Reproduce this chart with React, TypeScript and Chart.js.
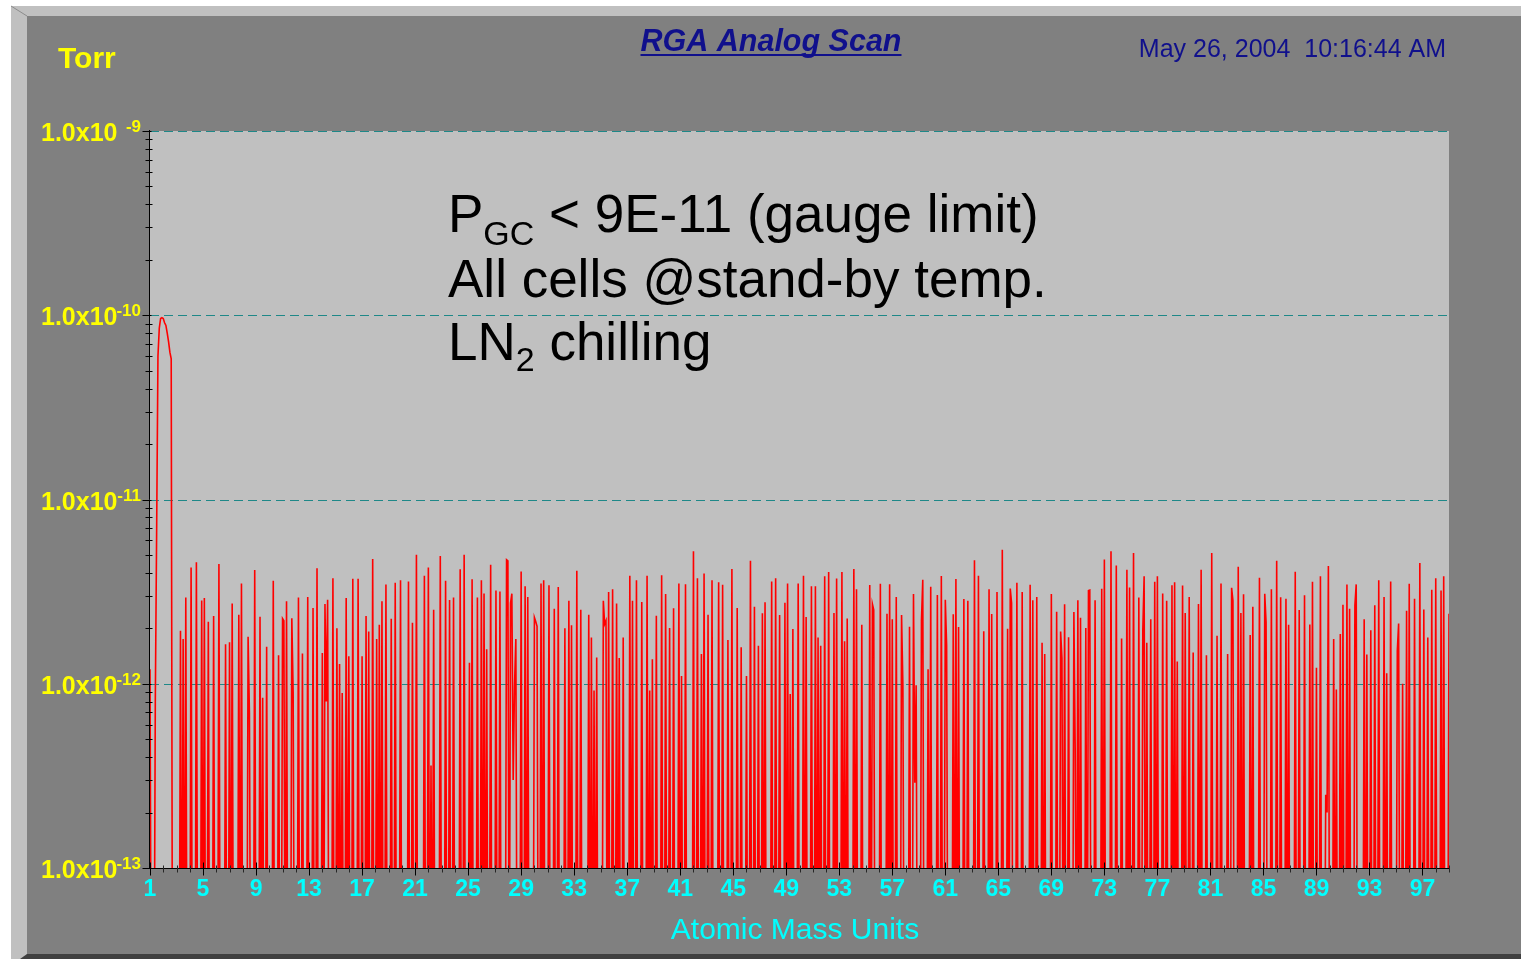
import { useEffect, useRef } from "react";
import { Chart, registerables } from "chart.js";

Chart.register(...registerables);

// ---------- data ----------
const AMU_START = 1;
const AMU_END = 99;
const SAMPLES_PER_AMU = 10;
const BELOW_RANGE_TORR = 1e-14; // readings under the 1e-13 floor

const amuTickLabels = [1, 5, 9, 13, 17, 21, 25, 29, 33, 37, 41, 45, 49, 53, 57, 61, 65, 69, 73, 77, 81, 85, 89, 93, 97];
const decadeExponents = [-13, -12, -11, -10, -9];
const minorMultipliers = [2, 3, 4, 5, 6, 7, 8, 9];

const titleText = "RGA Analog Scan";
const dateText = "May 26, 2004  10:16:44 AM";
const yUnitText = "Torr";
const xTitleText = "Atomic Mass Units";

// Pressure readings, unit 1e-12 Torr, 10 samples per AMU; 0 = below range
const scanAmu01 = [
  1.2, 0, 0, 0, 0.8, 6.6, 60, 85, 96, 97,
  96, 91, 88, 80, 72, 63, 58, 0, 0, 0,
  0, 0, 0, 1.94, 0, 1.75, 0, 2.94, 0, 0,
  0, 4.28, 0, 0, 0, 4.57, 0, 0, 0, 2.83,
  0, 2.92, 0, 0, 2.17, 0, 0, 0, 2.33, 0,
  0, 0, 4.46, 0, 0, 0, 0, 1.64, 0, 0,
  1.68, 0, 2.73, 0, 0, 0, 0, 2.37, 0, 3.5,
  0, 0, 0, 0, 1.8, 0.7, 0, 0, 0, 4.14,
  0, 0, 0, 2.31, 0, 0.84, 0, 0, 1.59, 0,
  0, 0, 0, 3.62, 0, 0, 0, 1.43, 0, 0,
];
const scanAmu11 = [
  2.26, 2.2, 0, 2.8, 0, 0, 0, 2.27, 0.9, 0,
  0, 0, 2.94, 0, 0, 1.46, 0, 0, 0, 2.96,
  0, 0, 0, 2.58, 0, 0, 4.24, 0, 0, 0,
  1.47, 0, 2.71, 0.8, 2.86, 0, 0, 0, 3.74, 0,
  0, 2.0, 0, 1.28, 0, 0.89, 0, 0, 2.92, 0,
  1.41, 0, 0, 3.71, 0, 0, 0, 3.71, 0, 0,
  1.41, 0, 0, 2.33, 0, 1.92, 0, 0, 4.75, 0,
  0, 1.75, 0, 2.09, 0, 2.8, 0, 0, 3.46, 0,
  0, 0, 2.25, 0, 0, 3.53, 0, 0, 0, 3.65,
  0, 0, 0, 0, 0, 3.59, 0, 0, 2.14, 0,
];
const scanAmu21 = [
  0, 5.01, 0, 0, 0, 0, 0, 3.86, 0, 0,
  4.28, 0, 0.36, 0, 2.52, 0, 0, 0, 0, 4.93,
  0, 0, 0, 3.62, 0, 0, 2.85, 0, 0, 2.94,
  0, 0, 0, 0, 4.18, 0, 0, 5.01, 0, 0,
  0, 1.3, 0, 3.69, 0, 0, 0, 2.94, 0, 0,
  3.65, 0, 3.09, 0, 1.54, 0, 0, 4.43, 0, 0,
  0, 3.21, 0, 0, 3.17, 0, 0, 0, 0, 4.71,
  4.65, 0, 2.74, 3.08, 0.3, 0.97, 1.75, 0, 0, 0,
  4.07, 0, 0, 3.38, 0, 2.96, 0, 0, 0, 0,
  2.29, 2.18, 2.05, 0, 0, 3.5, 0, 3.64, 0, 0,
];
const scanAmu31 = [
  0, 3.42, 0, 0, 0, 2.55, 0, 0, 3.35, 0,
  0, 0, 0, 2.0, 0, 0, 2.82, 0, 2.08, 0,
  0, 0, 4.1, 0, 0, 2.52, 0, 0, 0, 0,
  0, 2.37, 0, 1.78, 0, 0.92, 0, 1.39, 0, 0,
  0, 0, 2.82, 2.11, 2.2, 0, 3.15, 0, 0, 3.26,
  0, 0, 2.73, 0, 1.38, 0, 0, 1.78, 0, 0,
  0, 0, 3.86, 0, 2.82, 0, 0, 3.65, 0, 0,
  0, 2.78, 0, 0, 0, 3.86, 0, 0.92, 0, 1.36,
  0, 0, 2.34, 0, 0, 0, 3.88, 0, 0, 3.07,
  0, 0, 2.01, 0, 0, 2.57, 0, 0, 0, 3.5,
];
const scanAmu41 = [
  0, 1.1, 0, 0, 3.47, 0, 0, 0, 0, 0,
  5.23, 0, 0, 3.74, 0, 0, 1.45, 0, 3.97, 0,
  0, 2.37, 0, 0, 3.64, 0, 0, 0, 0, 3.56,
  0, 0, 3.45, 0, 0, 0, 1.73, 0, 0, 4.19,
  0, 0, 0, 2.58, 0, 0, 1.58, 0, 0, 0,
  1.1, 0, 0, 4.65, 0, 0, 2.62, 0, 0, 1.61,
  0, 0, 2.41, 0, 2.77, 0, 0, 0, 0, 3.59,
  0, 0, 3.74, 0, 0, 2.36, 0, 0, 0, 2.75,
  0, 3.5, 0, 0.88, 0, 1.98, 0, 0, 0, 3.5,
  0, 0, 0, 3.86, 0, 2.3, 0, 0, 0, 3.38,
];
const scanAmu51 = [
  0, 0, 3.38, 0, 1.78, 0, 1.61, 0, 0, 3.83,
  0, 0, 4.04, 0, 0, 0, 2.42, 0, 3.73, 0,
  0, 0, 4.04, 0, 1.7, 0, 2.26, 0, 0, 0,
  0, 4.19, 0, 3.26, 0, 0, 0, 2.09, 0, 0,
  0, 0, 0, 3.43, 0, 2.71, 2.52, 0, 0, 0,
  0, 3.49, 0, 0, 0, 0, 2.4, 0, 3.47, 0,
  2.24, 0, 0, 2.96, 0, 0, 0, 2.36, 0.98, 0,
  0, 0, 0, 2.04, 0, 0, 3.07, 0.29, 0.98, 0,
  0, 0, 2.2, 3.67, 0, 0, 0, 1.2, 0, 3.36,
  0, 0, 0, 0, 3.03, 0, 0, 3.84, 0, 0,
];
const scanAmu61 = [
  2.86, 1.62, 0, 0, 0, 0, 2.38, 0, 3.7, 0,
  2.03, 0, 0, 0, 2.88, 0, 0, 2.82, 0, 0,
  0, 0, 4.68, 0, 0, 3.86, 0, 0, 0, 1.93,
  0, 0, 0, 3.26, 0, 2.39, 0, 0, 0, 3.15,
  0, 0, 0, 5.34, 0, 0, 0, 1.99, 0, 3.29,
  2.74, 0, 0, 0, 3.53, 0, 0, 0, 3.15, 0,
  0, 0, 0, 0, 3.45, 0, 2.84, 0, 0, 2.96,
  0, 0, 0, 1.67, 0, 1.45, 0, 0, 0, 0,
  3.07, 0, 0, 0, 2.46, 0, 0, 1.92, 1.37, 0,
  2.7, 0, 0, 1.79, 0, 0, 0, 2.45, 0.44, 0,
];
const scanAmu71 = [
  2.84, 0, 2.28, 0, 0, 0, 2.01, 0, 3.2, 3.22,
  0, 0, 0, 2.84, 0, 0, 0, 0, 3.28, 0,
  4.72, 0, 0, 0, 0, 5.23, 0, 0, 0, 4.38,
  0, 0, 0, 1.76, 0, 0, 0, 4.16, 0, 3.33,
  0, 0, 5.12, 0, 0, 0, 2.94, 0, 0, 1.95,
  3.83, 0, 1.67, 0, 0, 2.24, 0, 0, 3.58, 0,
  3.83, 0, 0, 0, 3.09, 0, 0, 2.82, 0, 0,
  0, 3.42, 0, 3.56, 0, 1.32, 0, 0, 0, 3.41,
  0, 2.42, 0, 0, 2.96, 0, 0, 1.48, 0, 0,
  0, 2.71, 0, 4.16, 0, 0, 0, 1.43, 0, 0,
];
const scanAmu81 = [
  0, 5.12, 0, 0, 0, 1.82, 0, 0, 3.5, 0,
  0, 0, 0, 1.45, 0, 0, 3.32, 2.82, 0, 0,
  0, 4.32, 0, 2.42, 0, 3.06, 0, 0, 0, 0,
  1.84, 0, 2.62, 0, 0, 0, 0, 3.76, 0, 0,
  0, 3.08, 2.15, 0, 0, 0, 3.26, 0, 0, 0,
  4.65, 0, 0, 2.95, 0, 0, 0, 2.89, 0, 2.09,
  0, 0, 0, 0, 4.05, 0, 0, 2.51, 0, 0,
  0, 3.02, 0, 0, 0, 2.1, 0, 3.58, 0, 0,
  1.22, 0, 0, 3.83, 0, 0, 0, 0.25, 0.2, 4.35,
  0, 0, 0, 1.75, 0, 0.93, 0, 0, 1.86, 0,
];
const scanAmu91 = [
  2.68, 0, 0, 3.46, 0, 2.55, 0, 0, 0, 2.66,
  3.46, 0, 0, 0, 0, 0, 2.24, 0, 1.44, 0,
  0, 1.95, 0, 0, 2.67, 0, 0, 3.65, 0, 0,
  0, 2.96, 0, 1.14, 0, 0, 3.59, 0, 0, 0,
  0, 1.51, 2.12, 0, 0, 1.0, 0, 0, 2.49, 0,
  3.49, 0, 0, 0, 2.89, 0, 0, 0, 4.52, 0,
  0, 2.53, 0, 0, 1.78, 0, 0, 3.24, 0, 0,
  3.74, 0, 0, 0, 3.21, 0, 3.83, 0, 0, 0,
  2.4,
];

const scanPTorr = [
  ...scanAmu01, ...scanAmu11, ...scanAmu21, ...scanAmu31, ...scanAmu41,
  ...scanAmu51, ...scanAmu61, ...scanAmu71, ...scanAmu81, ...scanAmu91,
];

const scanPoints = scanPTorr.map((v, i) => ({
  x: AMU_START + i / SAMPLES_PER_AMU,
  y: v === 0 ? BELOW_RANGE_TORR : v * 1e-12,
}));

// ---------- styling ----------
const FONT = '"Liberation Sans", Arial, Helvetica, sans-serif';
const YELLOW = "#ffff00";
const CYAN = "#00ffff";
const NAVY = "#10108c";

const framePlugin = {
  id: "frame",
  beforeDraw(chart: any) {
    const { ctx, chartArea: a, width, height } = chart;
    ctx.save();
    ctx.fillStyle = "#ffffff";
    ctx.fillRect(0, 0, width, height);
    ctx.fillStyle = "#c0c0c0";
    ctx.fillRect(11, 6, width - 11, height - 6);
    ctx.fillStyle = "#808080";
    ctx.fillRect(27, 16, width - 27, 954 - 16);
    ctx.strokeStyle = "#8c8c8c";
    ctx.lineWidth = 1;
    ctx.beginPath();
    ctx.moveTo(11, 6);
    ctx.lineTo(27, 16);
    ctx.stroke();
    ctx.fillStyle = "#404040";
    ctx.beginPath();
    ctx.moveTo(27, 954);
    ctx.lineTo(width, 954);
    ctx.lineTo(width, height);
    ctx.lineTo(20, height);
    ctx.closePath();
    ctx.fill();
    ctx.fillStyle = "#c0c0c0";
    ctx.fillRect(a.left, a.top, a.right - a.left, a.bottom - a.top);
    ctx.restore();
  },
  beforeDatasetsDraw(chart: any) {
    const { ctx, chartArea: a, scales } = chart;
    const ys = scales.y;
    ctx.save();
    ctx.strokeStyle = "#1e8888";
    ctx.lineWidth = 1;
    ctx.setLineDash([9, 5]);
    for (const e of decadeExponents) {
      if (e === decadeExponents[0]) continue;
      const y = Math.round(ys.getPixelForValue(Math.pow(10, e))) + 0.5;
      ctx.beginPath();
      ctx.moveTo(a.left, y);
      ctx.lineTo(a.right, y);
      ctx.stroke();
    }
    ctx.restore();
  },
  afterDatasetsDraw(chart: any) {
    const { ctx, chartArea: a, scales } = chart;
    const xs = scales.x;
    const ys = scales.y;
    ctx.save();
    ctx.strokeStyle = "#000000";
    ctx.lineWidth = 1;
    ctx.setLineDash([]);
    // axes
    const ax = Math.round(a.left) - 0.5;
    const ay = Math.round(a.bottom) + 0.5;
    ctx.beginPath();
    ctx.moveTo(ax, a.top - 1);
    ctx.lineTo(ax, ay);
    ctx.lineTo(a.right, ay);
    ctx.stroke();
    // y ticks
    for (const e of decadeExponents) {
      const yd = Math.round(ys.getPixelForValue(Math.pow(10, e))) + 0.5;
      ctx.beginPath();
      ctx.moveTo(ax - 7, yd);
      ctx.lineTo(ax + 2, yd);
      ctx.stroke();
      if (e === decadeExponents[decadeExponents.length - 1]) continue;
      for (const m of minorMultipliers) {
        const y = Math.round(ys.getPixelForValue(m * Math.pow(10, e))) + 0.5;
        ctx.beginPath();
        ctx.moveTo(ax - 4, y);
        ctx.lineTo(ax + 3, y);
        ctx.stroke();
      }
    }
    // x ticks
    for (let amu = AMU_START; amu <= AMU_END; amu++) {
      const x = Math.round(xs.getPixelForValue(amu)) + 0.5;
      const major = amuTickLabels.includes(amu);
      ctx.strokeStyle = major ? "#000000" : "#262626";
      ctx.beginPath();
      ctx.moveTo(x, major ? ay - 6 : ay - 3);
      ctx.lineTo(x, major ? ay + 7 : ay + 4);
      ctx.stroke();
    }
    ctx.restore();
  },
  afterDraw(chart: any) {
    const { ctx, scales } = chart;
    const xs = scales.x;
    const ys = scales.y;
    ctx.save();
    ctx.textBaseline = "alphabetic";
    // y labels
    for (const e of decadeExponents) {
      const y = Math.round(ys.getPixelForValue(Math.pow(10, e)));
      ctx.fillStyle = YELLOW;
      ctx.font = `bold 25px ${FONT}`;
      ctx.textAlign = "left";
      ctx.fillText("1.0x10", 41, y + 10);
      ctx.font = `bold 17px ${FONT}`;
      ctx.textAlign = "right";
      ctx.fillText(String(e), 141, y + 1);
    }
    // x labels
    ctx.fillStyle = CYAN;
    ctx.font = `bold 23px ${FONT}`;
    ctx.textAlign = "center";
    for (const v of amuTickLabels) {
      ctx.fillText(String(v), xs.getPixelForValue(v), 896);
    }
    // x title
    ctx.font = `30px ${FONT}`;
    ctx.fillText(xTitleText, 795, 939);
    // y unit
    ctx.fillStyle = YELLOW;
    ctx.font = `bold 30px ${FONT}`;
    ctx.textAlign = "left";
    ctx.fillText(yUnitText, 58, 68);
    // title
    ctx.fillStyle = NAVY;
    ctx.font = `italic bold 30.5px ${FONT}`;
    ctx.textAlign = "center";
    ctx.fillText(titleText, 771, 51);
    const tw = ctx.measureText(titleText).width;
    ctx.fillRect(771 - tw / 2, 54, tw, 2);
    // date
    ctx.font = `25px ${FONT}`;
    ctx.textAlign = "right";
    ctx.fillText(dateText, 1446, 57);
    // annotation
    ctx.fillStyle = "#000000";
    ctx.textAlign = "left";
    const big = `53px ${FONT}`;
    const sub = `34px ${FONT}`;
    let x = 448;
    ctx.font = big;
    ctx.fillText("P", x, 232);
    x += ctx.measureText("P").width;
    ctx.font = sub;
    ctx.fillText("GC", x, 245);
    x += ctx.measureText("GC").width;
    ctx.font = big;
    ctx.fillText(" < 9E-11 (gauge limit)", x, 232);
    ctx.fillText("All cells @stand-by temp.", 448, 297);
    x = 448;
    ctx.fillText("LN", x, 360);
    x += ctx.measureText("LN").width;
    ctx.font = sub;
    ctx.fillText("2", x, 371);
    x += ctx.measureText("2").width;
    ctx.font = big;
    ctx.fillText(" chilling", x, 360);
    ctx.restore();
  },
};

export default function App() {
  const canvasRef = useRef<HTMLCanvasElement | null>(null);

  useEffect(() => {
    const canvas = canvasRef.current;
    if (!canvas) return;
    const chart = new Chart(canvas, {
      type: "line",
      data: {
        datasets: [
          {
            data: scanPoints,
            borderColor: "#ff0000",
            borderWidth: 1.6,
            pointRadius: 0,
            fill: false,
            tension: 0,
          },
        ],
      },
      options: {
        responsive: false,
        animation: false,
        events: [],
        layout: { padding: { left: 0, top: 131, right: 72, bottom: 0 } },
        plugins: {
          legend: { display: false },
          tooltip: { enabled: false },
          title: { display: false },
        },
        scales: {
          x: {
            type: "linear",
            min: AMU_START,
            max: AMU_END,
            grid: { display: false },
            border: { display: false },
            ticks: { display: false },
            afterFit: (s: any) => {
              s.height = 91;
            },
          },
          y: {
            type: "logarithmic",
            min: 1e-13,
            max: 1e-9,
            grid: { display: false },
            border: { display: false },
            ticks: { display: false },
            afterFit: (s: any) => {
              s.width = 150;
            },
          },
        },
      } as any,
      plugins: [framePlugin],
    });
    return () => chart.destroy();
  }, []);

  return (
    <div style={{ position: "absolute", left: 0, top: 0, width: 1521, height: 959 }}>
      <canvas ref={canvasRef} width={1521} height={959} style={{ display: "block" }} />
    </div>
  );
}
